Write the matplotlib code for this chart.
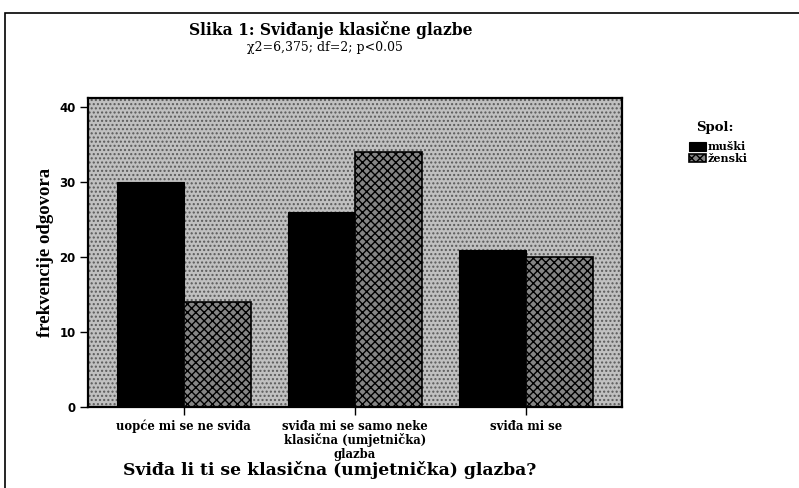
# ---------------------------------------------------------------------
# Slika 1: Sviđanje klasične glazbe, grouped bar chart
# ---------------------------------------------------------------------
import matplotlib

matplotlib.use("Agg")
import matplotlib.pyplot as plt
from matplotlib.patches import Rectangle
import numpy as np

# ---------------------------------------------------------------------
# Data
# ---------------------------------------------------------------------
categories = [
    "uopće mi se ne sviđa",
    "sviđa mi se samo neke\nklasična (umjetnička)\nglazba",
    "sviđa mi se",
]
series_names = ["muški", "ženski"]
muski = [30, 26, 21]
zenski = [14, 34, 20]
y_ticks = [0, 10, 20, 30, 40]

# ---------------------------------------------------------------------
# Styles
# ---------------------------------------------------------------------
times = ["Liberation Serif", "DejaVu Serif"]
wide = ["DejaVu Serif"]
bg_color = "#c0c0c0"
zen_color = "#858585"

fig = plt.figure(figsize=(7.99, 4.88), dpi=100)
ax = fig.add_axes([88 / 799, 1 - 407 / 488, (622 - 88) / 799, (407 - 98) / 488])

# speckled background
ax.set_facecolor(bg_color)
ax.add_patch(
    Rectangle(
        (0, 0), 1, 1, transform=ax.transAxes, facecolor="none",
        edgecolor="#5a5a5a", hatch="....", linewidth=0, zorder=0.5,
    )
)

x = np.arange(len(categories))
width = 0.39
ax.bar(x - width / 2, muski, width, color="black", edgecolor="black",
       linewidth=0.8, zorder=2, label=series_names[0])
ax.bar(x + width / 2, zenski, width, color=zen_color, edgecolor="black",
       linewidth=1.2, hatch="xxxx", zorder=2, label=series_names[1])

ax.set_xlim(-0.56, 2.56)
ax.set_ylim(0, 41.2)
ax.set_yticks(y_ticks)
ax.set_xticks(x)
ax.set_xticklabels(categories, fontsize=8.4, fontweight="bold",
                   family=wide, linespacing=1.05)
for lab in ax.get_yticklabels():
    lab.set_fontsize(8.5)
    lab.set_fontweight("bold")
ax.tick_params(axis="both", direction="out", length=6, width=1, pad=3)
for s in ax.spines.values():
    s.set_linewidth(1.6)

ax.set_ylabel("frekvencije odgovora", fontsize=13.5, fontweight="bold",
              family=times, labelpad=4)

# ---------------------------------------------------------------------
# Titles and axis label
# ---------------------------------------------------------------------
fig.text(331 / 799, 1 - 30 / 488, "Slika 1: Sviđanje klasične glazbe",
         ha="center", va="center", fontsize=11.2, fontweight="bold",
         family=wide)
fig.text(325 / 799, 1 - 48 / 488, "χ2=6,375; df=2; p<0.05",
         ha="center", va="center", fontsize=9, family=wide)
fig.text(330 / 799, 1 - 470 / 488,
         "Sviđa li ti se klasična (umjetnička) glazba?",
         ha="center", va="center", fontsize=12.3, fontweight="bold",
         family=wide)

# ---------------------------------------------------------------------
# Legend
# ---------------------------------------------------------------------
fig.text(715 / 799, 1 - 127 / 488, "Spol:", ha="center", va="center",
         fontsize=9.5, fontweight="bold", family=wide)
fig.legend(
    loc="upper left", bbox_to_anchor=(685 / 799, 1 - 137 / 488),
    frameon=False, handlelength=1.5, handleheight=0.8,
    handletextpad=0.15, labelspacing=0.05, borderaxespad=0,
    prop={"family": wide, "weight": "bold", "size": 8},
)

# outer frame of the scanned figure
fig.add_artist(
    Rectangle((5 / 799, -0.01), 1, 1 - 13 / 488 + 0.01,
              transform=fig.transFigure, facecolor="none",
              edgecolor="black", linewidth=1.2)
)

fig.savefig("out.png", dpi=100)
